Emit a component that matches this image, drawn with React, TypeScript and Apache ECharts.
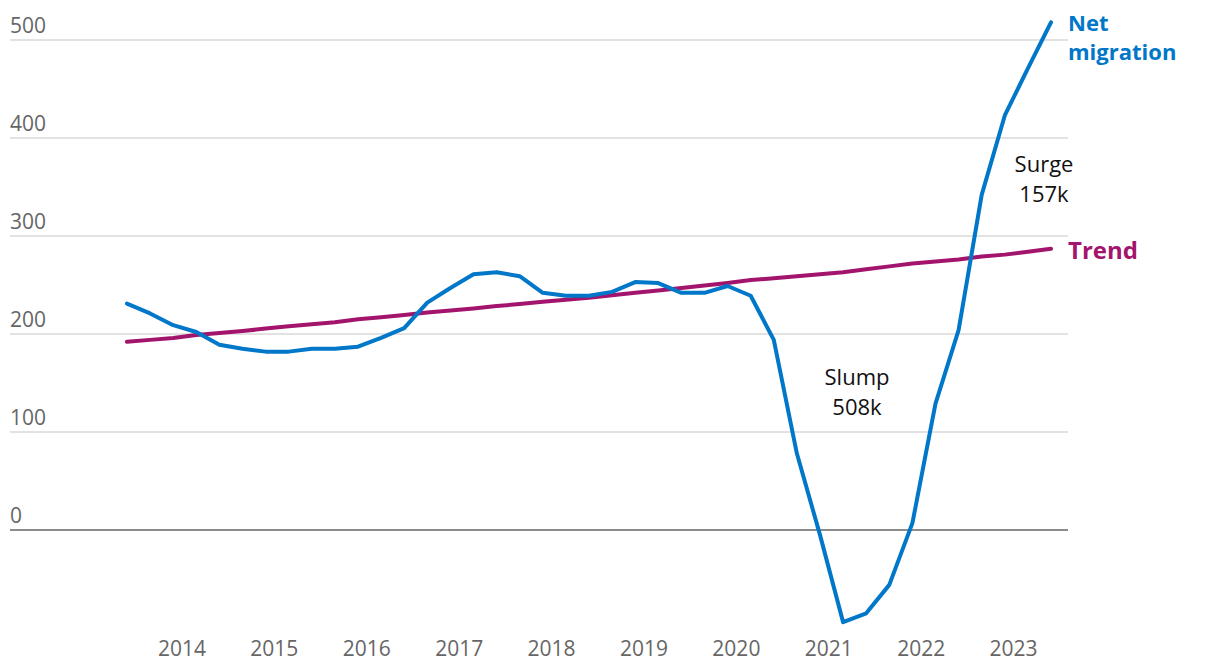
import React, { useEffect, useRef } from "react";
import * as echarts from "echarts";

// Quarterly periods (2013 Q4 .. 2023 Q4)
const quarters: string[] = [
  "2013 Q4",
  "2014 Q1", "2014 Q2", "2014 Q3", "2014 Q4",
  "2015 Q1", "2015 Q2", "2015 Q3", "2015 Q4",
  "2016 Q1", "2016 Q2", "2016 Q3", "2016 Q4",
  "2017 Q1", "2017 Q2", "2017 Q3", "2017 Q4",
  "2018 Q1", "2018 Q2", "2018 Q3", "2018 Q4",
  "2019 Q1", "2019 Q2", "2019 Q3", "2019 Q4",
  "2020 Q1", "2020 Q2", "2020 Q3", "2020 Q4",
  "2021 Q1", "2021 Q2", "2021 Q3", "2021 Q4",
  "2022 Q1", "2022 Q2", "2022 Q3", "2022 Q4",
  "2023 Q1", "2023 Q2", "2023 Q3", "2023 Q4",
];

// Net migration (thousands)
const netMigration: number[] = [
  231, 221, 209, 202, 189, 185, 182, 182, 185, 185,
  187, 196, 206, 232, 247, 261, 263, 259, 242, 239,
  239, 243, 253, 252, 242, 242, 249, 239, 194, 78,
  -5, -94, -85, -56, 7, 129, 204, 342, 423, 471,
  518,
];

// Trend (thousands)
const trend: number[] = [
  192, 194, 196, 199, 201, 203, 205.5, 208, 210, 212,
  215, 217, 219.5, 222, 224, 226, 228.5, 230.5, 233, 235,
  237, 239.5, 242, 244.5, 247, 249.5, 252, 255, 257, 259,
  261, 263, 266, 269, 272, 274, 276, 279, 281, 284,
  287,
];

const yearTicks: number[] = [2014, 2015, 2016, 2017, 2018, 2019, 2020, 2021, 2022, 2023];
const yTicks: number[] = [-100, 0, 100, 200, 300, 400, 500];

const BLUE = "#0077c8";
const PURPLE = "#a3146d";
const FONT = "'Open Sans', 'DejaVu Sans', sans-serif";

function quarterToX(q: string): number {
  const [y, qq] = q.split(" Q");
  return Number(y) + (Number(qq) - 0.5) / 4;
}

export default function App() {
  const ref = useRef<HTMLDivElement>(null);

  useEffect(() => {
    if (!ref.current) return;
    const chart = echarts.init(ref.current, null, { renderer: "svg" });

    const xs = quarters.map(quarterToX);
    const netData = netMigration.map((v, i) => [xs[i], v]);
    const trendData = trend.map((v, i) => [xs[i], v]);

    const option: any = {
      animation: false,
      backgroundColor: "#ffffff",
      textStyle: { fontFamily: FONT },
      grid: { left: 10, right: 152, top: 40, bottom: 42, containLabel: false },
      xAxis: {
        type: "value",
        min: 2012.609,
        max: 2024.059,
        axisLine: { show: false },
        axisTick: { show: false },
        splitLine: { show: false },
        axisLabel: {
          customValues: yearTicks.map((y) => y + 0.47),
          formatter: (v: number) => String(Math.floor(v)),
          color: "#666666",
          fontSize: 21,
          fontFamily: FONT,
          margin: 9,
        },
      },
      yAxis: {
        type: "value",
        min: yTicks[0],
        max: yTicks[yTicks.length - 1],
        interval: 100,
        axisLine: { show: false },
        axisTick: { show: false },
        axisLabel: {
          inside: true,
          align: "left",
          verticalAlign: "bottom",
          margin: 0,
          padding: [0, 0, 5, 0],
          color: "#666666",
          fontSize: 21,
          fontFamily: FONT,
          formatter: (v: number) => (v < 0 ? "" : String(v)),
        },
        splitLine: {
          show: true,
          lineStyle: {
            color: ["rgba(0,0,0,0)", "#666666", "#d9d9d9", "#d9d9d9", "#d9d9d9", "#d9d9d9", "#d9d9d9"],
            width: 1.5,
          },
        },
      },
      series: [
        {
          name: "Trend",
          type: "line",
          data: trendData,
          showSymbol: false,
          symbol: "none",
          clip: false,
          lineStyle: { color: PURPLE, width: 4, cap: "round", join: "round" },
          endLabel: {
            show: true,
            formatter: "Trend",
            color: PURPLE,
            fontSize: 24,
            fontWeight: "bold",
            fontFamily: FONT,
            distance: 17,
            offset: [0, 1],
          },
          z: 2,
        },
        {
          name: "Net migration",
          type: "line",
          data: netData,
          showSymbol: false,
          symbol: "none",
          clip: false,
          lineStyle: { color: BLUE, width: 4, cap: "round", join: "round" },
          endLabel: {
            show: true,
            formatter: "Net\nmigration",
            color: BLUE,
            fontSize: 22,
            lineHeight: 29,
            fontWeight: "bold",
            fontFamily: FONT,
            distance: 17,
            offset: [0, 14],
          },
          z: 3,
        },
      ],
      graphic: [
        {
          type: "text",
          x: 857,
          y: 391,
          style: {
            text: "Slump\n508k",
            fill: "#111111",
            fontSize: 22,
            lineHeight: 30,
            fontFamily: FONT,
            align: "center",
            verticalAlign: "middle",
          },
        },
        {
          type: "text",
          x: 1044,
          y: 178,
          style: {
            text: "Surge\n157k",
            fill: "#111111",
            fontSize: 22,
            lineHeight: 30,
            fontFamily: FONT,
            align: "center",
            verticalAlign: "middle",
          },
        },
      ],
    };

    chart.setOption(option);
    return () => chart.dispose();
  }, []);

  return (
    <div
      ref={ref}
      style={{ position: "fixed", left: 0, top: 0, width: 1220, height: 670, background: "#fff" }}
    />
  );
}
